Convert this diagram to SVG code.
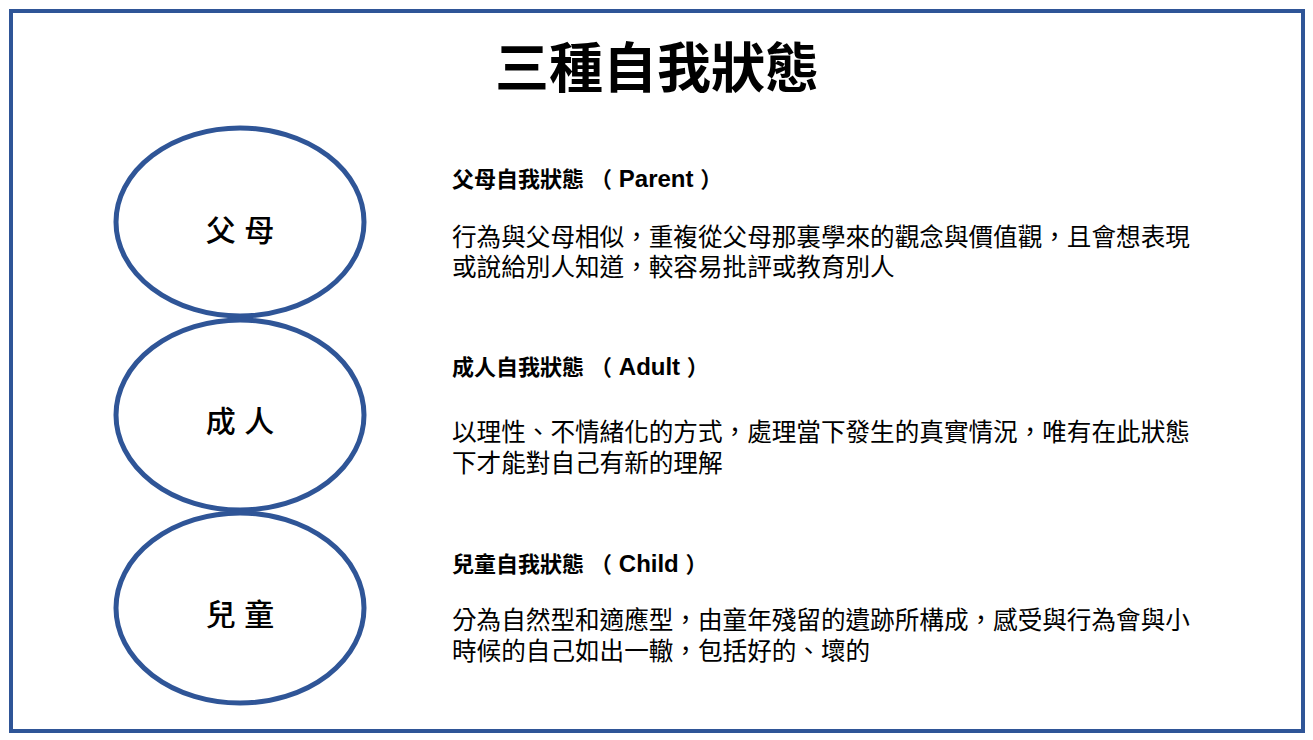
<svg xmlns="http://www.w3.org/2000/svg" width="1313" height="740" viewBox="0 0 1313 740">
<style>
.frame{fill:#ffffff;stroke:#2F5597;stroke-width:4}
.node ellipse{fill:#ffffff;stroke:#2F5597;stroke-width:5}
.lbl{font-family:"Liberation Sans","Noto Sans CJK TC",sans-serif;font-size:30px;font-weight:500;fill:#000;text-anchor:middle}
.title{font-family:"Liberation Sans","Noto Sans CJK TC",sans-serif;font-size:54px;font-weight:bold;fill:#000;text-anchor:middle}
.head{font-family:"Liberation Sans","Noto Sans CJK TC",sans-serif;font-size:22px;font-weight:bold;fill:#000}
.lat{font-size:24px}
.body{font-family:"Liberation Sans","Noto Sans CJK TC",sans-serif;font-size:24.6px;fill:#000}
</style>
<rect x="0" y="0" width="1313" height="740" fill="#ffffff"/>
<rect class="frame" x="11" y="11" width="1292" height="720"/>
<text class="title" x="657" y="88">三種自我狀態</text>
<g id="connectors"></g>
<g id="node-parent" class="node">
<ellipse cx="240" cy="222" rx="124" ry="94"/>
<text class="lbl" x="240" y="241">父 母</text>
</g>
<g id="node-adult" class="node">
<ellipse cx="240" cy="415" rx="124" ry="95"/>
<text class="lbl" x="240" y="432">成 人</text>
</g>
<g id="node-child" class="node">
<ellipse cx="240" cy="608" rx="124" ry="95"/>
<text class="lbl" x="240" y="625">兒 童</text>
</g>
<g id="desc-parent">
<text class="head" x="452" y="187">父母自我狀態 （<tspan class="lat"> Parent </tspan>）</text>
<text class="body" x="452" y="246">行為與父母相似，重複從父母那裏學來的觀念與價值觀，且會想表現</text>
<text class="body" x="452" y="276">或說給別人知道，較容易批評或教育別人</text>
</g>
<g id="desc-adult">
<text class="head" x="452" y="375">成人自我狀態 （<tspan class="lat"> Adult </tspan>）</text>
<text class="body" x="452" y="441">以理性、不情緒化的方式，處理當下發生的真實情況，唯有在此狀態</text>
<text class="body" x="452" y="472">下才能對自己有新的理解</text>
</g>
<g id="desc-child">
<text class="head" x="452" y="572">兒童自我狀態 （<tspan class="lat"> Child </tspan>）</text>
<text class="body" x="452" y="629">分為自然型和適應型，由童年殘留的遺跡所構成，感受與行為會與小</text>
<text class="body" x="452" y="660">時候的自己如出一轍，包括好的、壞的</text>
</g>
</svg>
